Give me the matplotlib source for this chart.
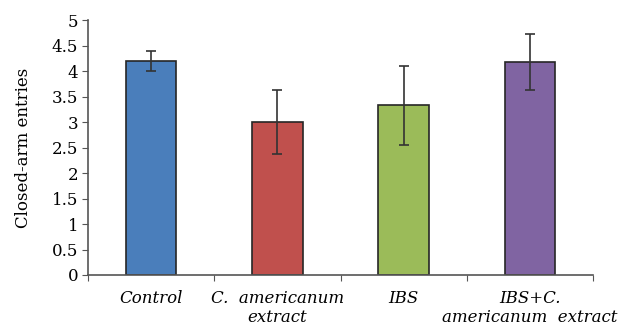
import matplotlib.pyplot as plt

# Data
groups = ['Control', 'C.  americanum\nextract', 'IBS', 'IBS+C.\namericanum  extract']
means = [4.2, 3.0, 3.33, 4.17]
errors = [0.19, 0.63, 0.77, 0.55]
colors = ['#4A7EBB', '#C0504D', '#9BBB59', '#8064A2']

plt.rcParams['font.family'] = ['DejaVu Serif']

fig = plt.figure(figsize=(6.31, 3.30), dpi=100)
ax = fig.add_axes([0.1395, 0.1667, 0.8005, 0.7723])

x = range(len(groups))
ax.bar(x, means, width=0.4, color=colors, edgecolor='#262626', linewidth=1.2, zorder=2)
ax.errorbar(x, means, yerr=errors, fmt='none', ecolor='#333333', elinewidth=1.2,
            capsize=3.5, capthick=1.2, zorder=3)

ax.set_xlim(-0.5, 3.5)
ax.set_ylim(0, 5)
ax.set_yticks([0, 0.5, 1, 1.5, 2, 2.5, 3, 3.5, 4, 4.5, 5])
ax.set_yticklabels(['0', '0.5', '1', '1.5', '2', '2.5', '3', '3.5', '4', '4.5', '5'])
ax.set_ylabel('Closed-arm entries', fontsize=12, labelpad=14)

# boundary ticks on x, labels at category centres
ax.set_xticks([-0.5, 0.5, 1.5, 2.5, 3.5])
ax.set_xticklabels([])
ax.set_xticks(list(x), minor=True)
ax.set_xticklabels(groups, minor=True, fontstyle='italic', fontsize=12, linespacing=1.15)
ax.tick_params(axis='x', which='minor', length=0, pad=11)
ax.tick_params(axis='x', which='major', length=4, direction='out', color='#555555')
ax.tick_params(axis='y', length=4, direction='out', color='#555555', labelsize=12, pad=3)

for side in ['top', 'right']:
    ax.spines[side].set_visible(False)
for side in ['left', 'bottom']:
    ax.spines[side].set_color('#555555')
    ax.spines[side].set_linewidth(1.2)

fig.savefig('out.png', dpi=100)
